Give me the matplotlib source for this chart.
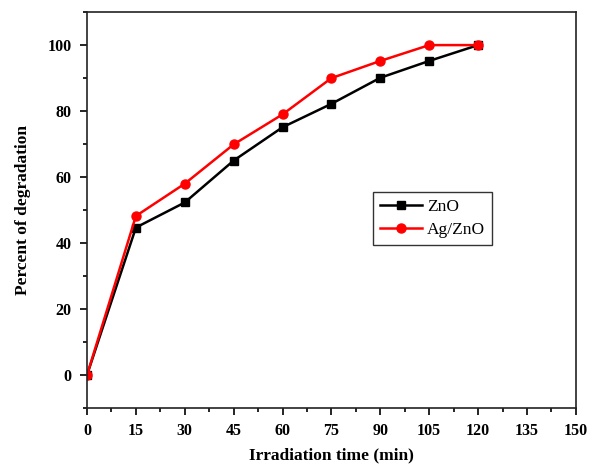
import matplotlib
matplotlib.use("Agg")
import matplotlib.pyplot as plt
from matplotlib.ticker import MultipleLocator

plt.rcParams['font.family'] = ['Liberation Serif', 'DejaVu Serif']

# degradation data
time_min = [0, 15, 30, 45, 60, 75, 90, 105, 120]
zno = [0, 44.7, 52.3, 65.0, 75.1, 82.2, 90.1, 95.2, 100]
ag_zno = [0, 48.2, 58.0, 69.9, 79.0, 90.0, 95.2, 100, 100]

fig = plt.figure(figsize=(5.9, 4.66), dpi=100)
ax = fig.add_axes([0.1475, 0.1245, 0.8285, 0.8495])

ax.plot(time_min, zno, color='black', lw=1.8, marker='s', ms=5.5, label='ZnO')
ax.plot(time_min, ag_zno, color='red', lw=1.8, marker='o', ms=6.5, label='Ag/ZnO')

ax.set_xlim(0, 150)
ax.set_ylim(-10, 110)
ax.xaxis.set_major_locator(MultipleLocator(15))
ax.xaxis.set_minor_locator(MultipleLocator(7.5))
ax.yaxis.set_major_locator(MultipleLocator(20))
ax.yaxis.set_minor_locator(MultipleLocator(10))
ax.tick_params(which='both', direction='out', width=1.2, top=False, right=False)
ax.tick_params(which='major', length=5, labelsize=11.5, pad=6)
ax.tick_params(which='minor', length=3)
for lbl in ax.get_xticklabels() + ax.get_yticklabels():
    lbl.set_fontweight('bold')
for sp in ax.spines.values():
    sp.set_linewidth(1.2)
    sp.set_color('#222222')

ax.set_xlabel('Irradiation time (min)', fontsize=12.5, fontweight='bold', labelpad=6)
ax.set_ylabel('Percent of degradation', fontsize=12.5, fontweight='bold', labelpad=12)

leg = ax.legend(loc='upper left', bbox_to_anchor=(0.585, 0.545), borderaxespad=0,
                fontsize=12.5, frameon=True, fancybox=False, edgecolor='black',
                handlelength=2.4, borderpad=0.4, labelspacing=0.4, handletextpad=0.3)
leg.get_frame().set_linewidth(1.0)

fig.savefig('out.png', dpi=100)
